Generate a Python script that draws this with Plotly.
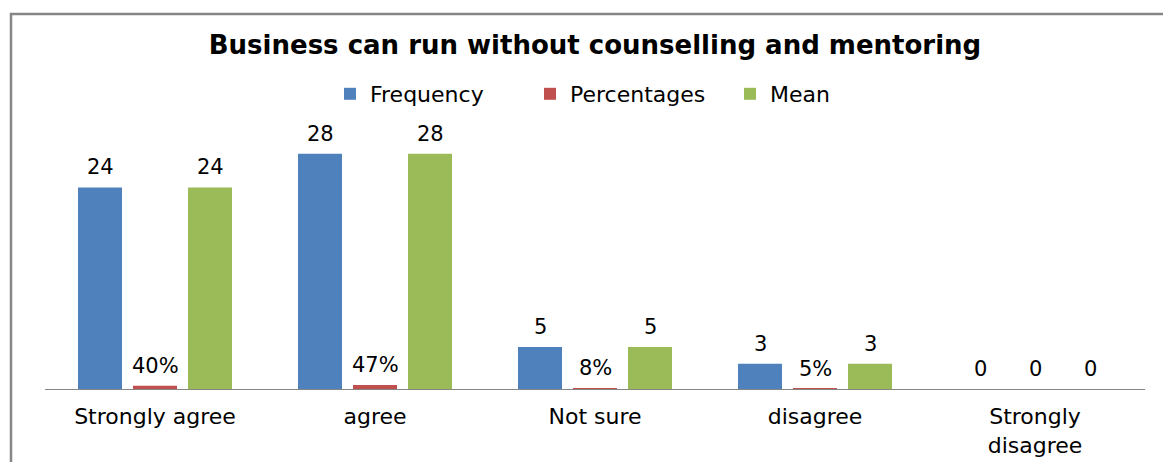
import plotly.graph_objects as go

categories = ["Strongly agree", "agree", "Not sure", "disagree", "Strongly<br>disagree"]
frequency = [24, 28, 5, 3, 0]
percentages = [0.40, 0.47, 0.08, 0.05, 0]
percentage_labels = ["40%", "47%", "8%", "5%", "0"]
mean = [24, 28, 5, 3, 0]

series_names = ["Frequency", "Percentages", "Mean"]
series_colors = ["#4F81BD", "#C0504D", "#9BBB59"]

FONT = "DejaVu Sans"

fig = go.Figure()
idx = list(range(len(categories)))
for name, vals, color in zip(series_names, [frequency, percentages, mean], series_colors):
    fig.add_trace(go.Bar(name=name, x=idx, y=vals, marker=dict(color=color, line=dict(width=0)),
                         hoverinfo="skip"))

# data labels
label_sets = [[str(v) for v in frequency], percentage_labels, [str(v) for v in mean]]
offsets = [-0.25, 0.0, 0.25]
for vals, labels, off in zip([frequency, percentages, mean], label_sets, offsets):
    for i, (v, t) in enumerate(zip(vals, labels)):
        fig.add_annotation(x=i + off, y=v, text=t, showarrow=False, xref="x", yref="y",
                           yanchor="bottom", yshift=6,
                           font=dict(family=FONT, size=21, color="#000000"))

# outer frame (cropped on right and bottom)
fig.add_shape(type="rect", xref="paper", yref="paper",
              x0=(11 - 45) / 1100, x1=(1175 - 45) / 1100,
              y0=(389 - 475) / 252, y1=(389 - 14) / 252,
              line=dict(color="#868686", width=2.5), fillcolor="rgba(0,0,0,0)", layer="below")

fig.update_layout(
    width=1163, height=462,
    margin=dict(l=45, r=18, t=137, b=73, autoexpand=False),
    paper_bgcolor="white", plot_bgcolor="white",
    barmode="group", bargap=0.25, bargroupgap=0.2,
    title=dict(text="<b>Business can run without counselling and mentoring</b>",
               x=0.5, xref="paper", xanchor="center", y=1 - 45 / 462, yanchor="middle",
               font=dict(family=FONT, size=26, color="#000000"), automargin=False),
    legend=dict(orientation="h", x=(330 - 45) / 1100, xanchor="left", y=1 - 94 / 462,
                yref="container", yanchor="middle",
                font=dict(family=FONT, size=22, color="#000000"),
                entrywidth=155, entrywidthmode="pixels",
                itemclick=False, itemdoubleclick=False),
    xaxis=dict(tickmode="array", tickvals=idx, ticktext=categories, range=[-0.5, 4.5],
               showline=True, linecolor="#868686", linewidth=1, ticks="", showgrid=False,
               zeroline=False, tickfont=dict(family=FONT, size=22, color="#000000"),
               ticklabelstandoff=8, automargin=False, fixedrange=True),
    yaxis=dict(range=[0, 30], visible=False, showgrid=False, zeroline=False,
               automargin=False, fixedrange=True),
)

fig.write_html("out.html", config={"displayModeBar": False},
               post_script="document.body.style.margin='0';")
